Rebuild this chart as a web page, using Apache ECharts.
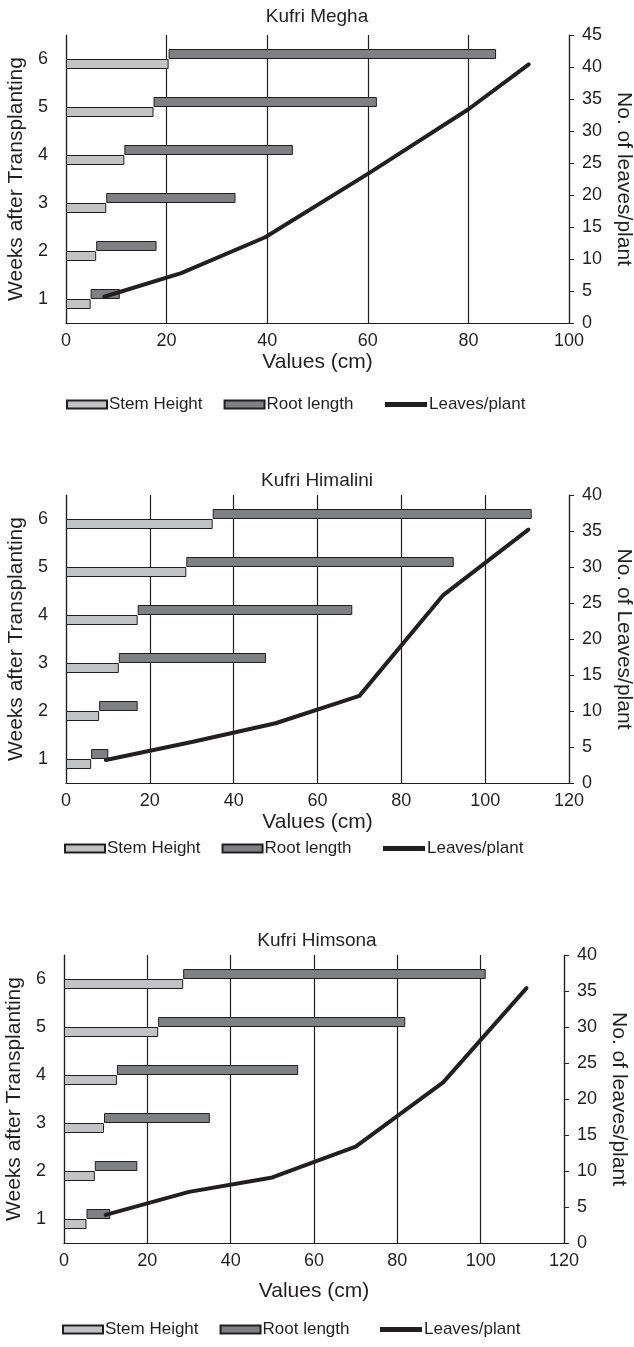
<!DOCTYPE html>
<html>
<head>
<meta charset="utf-8">
<script src="https://cdn.jsdelivr.net/npm/echarts@6/dist/echarts.min.js"></script>
<style>
html, body { margin: 0; padding: 0; background: #fff; }
#main { width: 634px; height: 1347px; }
</style>
</head>
<body>
<div id="main"></div>
<script>
var weeks = ['1', '2', '3', '4', '5', '6'];

// Kufri Megha
var meghaStem = [4.9, 6.0, 8.0, 11.6, 17.4, 20.4];
var meghaRoot = [5.8, 12.0, 25.7, 33.5, 44.4, 65.1];
var meghaLeafX = [7.6, 22.9, 39.6, 60, 80, 92];
var meghaLeaves = [4.1, 7.8, 13.4, 23.3, 33.4, 40.4];

// Kufri Himalini
var himaliniStem = [6.0, 7.9, 12.6, 17.1, 28.7, 35.0];
var himaliniRoot = [4.1, 9.2, 35.1, 51.2, 63.8, 76.1];
var himaliniLeafX = [9.5, 30, 50, 70, 90, 110.3];
var himaliniLeaves = [3.2, 5.7, 8.3, 12.1, 26.1, 35.2];

// Kufri Himsona
var himsonaStem = [5.4, 7.4, 9.6, 12.7, 22.6, 28.6];
var himsonaRoot = [5.7, 10.2, 25.4, 43.5, 59.3, 72.6];
var himsonaLeafX = [10, 30, 50, 70, 91, 111];
var himsonaLeaves = [3.9, 7.1, 9.1, 13.4, 22.3, 35.4];

var ink = '#231f20';
var font = 'Liberation Sans, Arial, sans-serif';

var panels = [
	{ title: 'Kufri Megha', stem: meghaStem, root: meghaRoot, lx: meghaLeafX, ly: meghaLeaves,
	  xMax: 100, yMax: 45, rightName: 'No. of leaves/plant',
	  top: 35, left: 66, right: 65, titleTop: 2, nameGap: 29, legendTop: 396, barLeft: 66, lineLeft: 385 },
	{ title: 'Kufri Himalini', stem: himaliniStem, root: himaliniRoot, lx: himaliniLeafX, ly: himaliniLeaves,
	  xMax: 120, yMax: 40, rightName: 'No. of Leaves/plant',
	  top: 495, left: 66, right: 65, titleTop: 466, nameGap: 29, legendTop: 840, barLeft: 64, lineLeft: 383 },
	{ title: 'Kufri Himsona', stem: himsonaStem, root: himsonaRoot, lx: himsonaLeafX, ly: himsonaLeaves,
	  xMax: 120, yMax: 40, rightName: 'No. of leaves/plant',
	  top: 955, left: 64, right: 70, titleTop: 926, nameGap: 38, legendTop: 1321, barLeft: 62, lineLeft: 380 }
];

var option = {
	backgroundColor: '#fff',
	animation: false,
	textStyle: { fontFamily: font, color: ink },
	title: [], legend: [], grid: [], xAxis: [], yAxis: [], series: []
};

panels.forEach(function (p, i) {
	option.title.push({
		text: p.title, left: 'center', top: p.titleTop,
		textStyle: { fontFamily: font, fontSize: 19, fontWeight: 'normal', color: ink }
	});
	option.legend.push({
		data: ['Stem Height', 'Root length'],
		top: p.legendTop, left: p.barLeft, icon: 'rect', padding: 0,
		itemWidth: 40, itemHeight: 8, itemGap: 21,
		textStyle: { fontFamily: font, fontSize: 17, color: ink, padding: [0, 0, 0, -3] }
	});
	option.legend.push({
		data: [{ name: 'Leaves/plant', icon: 'rect', itemStyle: { color: ink, borderWidth: 0 } }],
		top: p.legendTop, left: p.lineLeft, padding: 0,
		itemWidth: 42, itemHeight: 5,
		textStyle: { fontFamily: font, fontSize: 17, color: ink, padding: [0, 0, 0, -3] }
	});
	option.grid.push({ left: p.left, right: p.right, top: p.top, height: 288, outerBoundsMode: 'none', containLabel: false });
	option.xAxis.push({
		type: 'value', gridIndex: i, min: 0, max: p.xMax, interval: 20,
		name: 'Values (cm)', nameLocation: 'middle', nameGap: p.nameGap,
		nameTextStyle: { fontSize: 21, color: ink },
		axisLine: { show: true, lineStyle: { color: ink, width: 1.2 } },
		axisTick: { show: false },
		axisLabel: { fontSize: 18, color: ink, margin: 9 },
		splitLine: { show: true, lineStyle: { color: ink, width: 1.2 } }
	});
	option.yAxis.push({
		type: 'category', gridIndex: i, data: weeks,
		name: 'Weeks after Transplanting', nameLocation: 'middle', nameGap: 38,
		nameTextStyle: { fontSize: 21, color: ink },
		axisLine: { show: true, lineStyle: { color: ink, width: 1.2 } },
		axisTick: { show: false },
		axisLabel: { fontSize: 18, color: ink, margin: 18 }
	});
	option.yAxis.push({
		type: 'value', gridIndex: i, position: 'right', min: 0, max: p.yMax, interval: 5,
		name: p.rightName, nameLocation: 'middle', nameGap: 41, nameRotate: -90,
		nameTextStyle: { fontSize: 21, color: ink },
		axisLine: { show: true, lineStyle: { color: ink, width: 1.2 } },
		axisTick: { show: true, length: 5, lineStyle: { color: ink } },
		axisLabel: { fontSize: 18, color: ink, margin: 13 },
		splitLine: { show: false }
	});
	var catY = i * 2, valY = i * 2 + 1;
	// root bars sit above the stem bars, starting where the stem ends
	option.series.push({
		name: 'base', type: 'bar', xAxisIndex: i, yAxisIndex: catY,
		stack: 'root' + i, data: p.stem, barWidth: 10, barGap: '0%',
		itemStyle: { color: 'transparent', borderWidth: 0 },
		emphasis: { disabled: true }, silent: true
	});
	option.series.push({
		name: 'Root length', type: 'bar', xAxisIndex: i, yAxisIndex: catY,
		stack: 'root' + i, data: p.root, barWidth: 10, barGap: '0%',
		itemStyle: { color: '#7f8083', borderColor: ink, borderWidth: 1 }
	});
	option.series.push({
		name: 'Stem Height', type: 'bar', xAxisIndex: i, yAxisIndex: catY,
		stack: 'stem' + i, data: p.stem, barWidth: 10, barGap: '0%',
		itemStyle: { color: '#c1c2c4', borderColor: ink, borderWidth: 1 }
	});
	option.series.push({
		name: 'Leaves/plant', type: 'line', xAxisIndex: i, yAxisIndex: valY,
		data: p.lx.map(function (x, k) { return [x, p.ly[k]]; }),
		symbol: 'none', showSymbol: false, z: 5,
		lineStyle: { color: ink, width: 4, cap: 'round', join: 'round' },
		itemStyle: { color: ink }
	});
});

var chart = echarts.init(document.getElementById('main'), null, { renderer: 'canvas' });
chart.setOption(option);
</script>
</body>
</html>
